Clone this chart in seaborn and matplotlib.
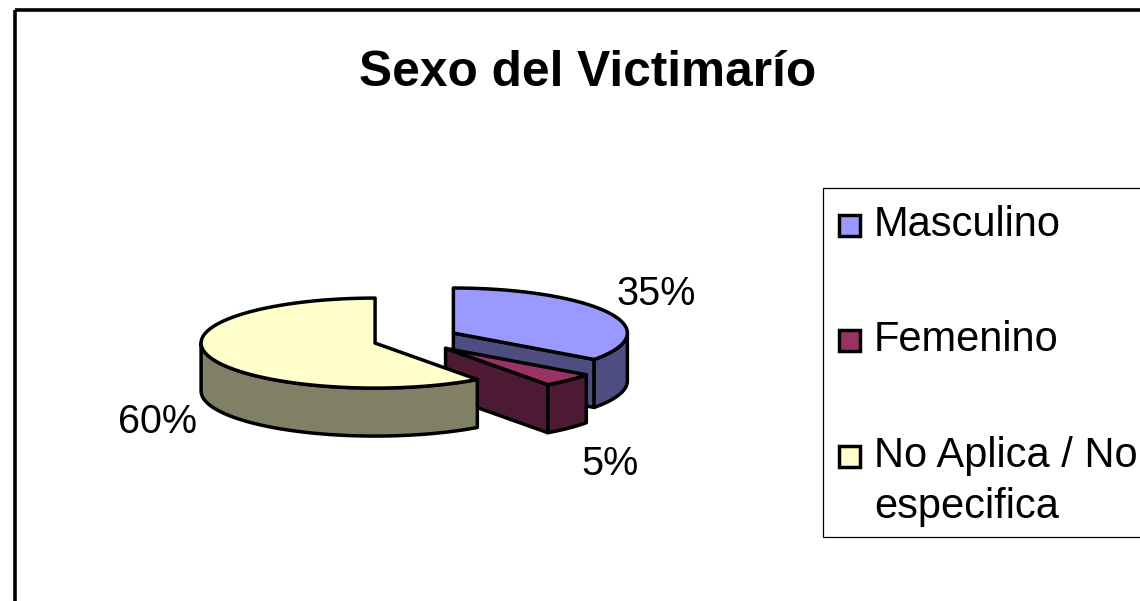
import numpy as np
import pandas as pd
import matplotlib
matplotlib.use("Agg")
import matplotlib.pyplot as plt
from matplotlib.patches import Polygon, Rectangle
import seaborn as sns

# ---- data ----
title = "Sexo del Victimarío"
categories = ["Masculino", "Femenino", "No Aplica / No\nespecifica"]
values = [35, 5, 60]
top_colors = ["#9999FF", "#993366", "#FFFFCC"]

# ---- style / layout (pixel space) ----
sns.set_theme(style="white")
plt.rcParams["font.family"] = ["Liberation Sans", "DejaVu Sans"]
W, H = 1140, 601
RX, RY, DEPTH = 174, 45, 48
BASE = (415.5, 339)
EXPLODE, TILT = 42.5, 0.31
LW = 2.5
FS_LABEL = 28.5
FS_LEGEND = 30
label_anchor = [(656, 294), (610, 464), (157, 422)]
legend_box = (823, 188, 340, 349)
legend_marker_y = [225, 340, 456]

df = pd.DataFrame({"label": categories, "val": values, "color": top_colors})
df["frac"] = df["val"] / df["val"].sum()
df["end"] = df["frac"].cumsum() * 2 * np.pi
df["start"] = df["end"] - df["frac"] * 2 * np.pi


def darker(c):
    return tuple(0.5 * np.array(sns.color_palette([c])[0]))


fig = plt.figure(figsize=(W / 100, H / 100), dpi=100, facecolor="white")
ax = fig.add_axes([0, 0, 1, 1])
ax.set_xlim(0, W)
ax.set_ylim(H, 0)
ax.axis("off")


def pts(center, a):
    a = np.asarray(a)
    return np.column_stack([center[0] + RX * np.sin(a), center[1] - RY * np.cos(a)])


def wall(poly_top, color, z):
    down = poly_top + np.array([0, DEPTH])
    ax.add_patch(Polygon(np.vstack([poly_top, down[::-1]]), closed=True, fc=color,
                         ec="black", lw=LW, joinstyle="round", zorder=z))


for i, row in df.iterrows():
    mid = (row.start + row.end) / 2
    c = (BASE[0] + EXPLODE * np.sin(mid), BASE[1] - EXPLODE * TILT * np.cos(mid))
    z = 2 + i * 2
    apex = np.array([c])
    dark = darker(row.color)
    # straight cut wall at the end of the slice when it faces the viewer
    if row.end < np.pi:
        wall(np.vstack([apex, pts(c, [row.end])]), dark, z)
    # curved outer wall, front half only
    a0, a1 = max(row.start, np.pi / 2), min(row.end, 3 * np.pi / 2)
    if a1 > a0:
        wall(pts(c, np.linspace(a0, a1, 80)), dark, z)
    # top face
    top = np.vstack([apex, pts(c, np.linspace(row.start, row.end, 160))])
    ax.add_patch(Polygon(top, closed=True, fc=row.color, ec="black", lw=LW,
                         joinstyle="round", zorder=z + 1))
    ax.text(*label_anchor[i], f"{row.val}%", ha="center", va="center",
            fontsize=FS_LABEL, color="black", zorder=20)

# outer frame (runs past the right and bottom edges)
ax.add_patch(Rectangle((14.5, 9.5), W, H, fc="none", ec="black", lw=2.6, zorder=30))

ax.text(588, 73, title, ha="center", va="center", fontsize=35.7,
        fontweight="bold", color="black", zorder=20)

# legend
ax.add_patch(Rectangle(legend_box[:2], legend_box[2], legend_box[3], fc="white",
                       ec="black", lw=0.9, zorder=10))
for i, row in df.iterrows():
    ym = legend_marker_y[i]
    ax.add_patch(Rectangle((839, ym - 10.5), 21, 21, fc=row.color, ec="black",
                           lw=LW, zorder=11))
    first, *rest = row.label.split("\n")
    ax.text(874, ym, first, ha="left", va="center", fontsize=FS_LEGEND, color="black", zorder=12)
    if rest:
        ax.text(874, ym + 51, rest[0], ha="left", va="center", fontsize=FS_LEGEND, color="black", zorder=12)

sns.despine(ax=ax, left=True, bottom=True)
fig.savefig("out.png", dpi=100, facecolor="white")
